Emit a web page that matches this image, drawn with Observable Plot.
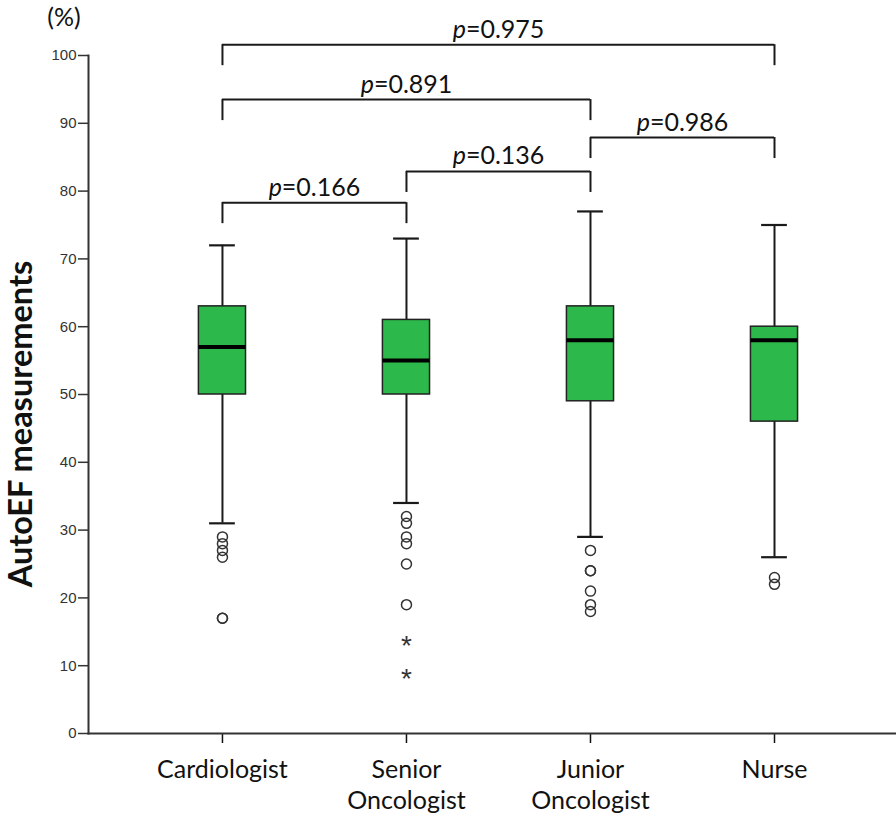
<!DOCTYPE html>
<html>
<head>
<meta charset="utf-8">
<script src="https://cdn.jsdelivr.net/npm/d3@7"></script>
<script src="https://cdn.jsdelivr.net/npm/@observablehq/plot@0.6"></script>
<style>
  body { margin: 0; background: #fff; }
</style>
</head>
<body>
<div id="chart"></div>
<script>
// ---- data ----
const categories = ["Cardiologist", "Senior\nOncologist", "Junior\nOncologist", "Nurse"];
const whiskerLow  = [31, 34, 29, 26];
const q1          = [50, 50, 49, 46];
const median      = [57, 55, 58, 58];
const q3          = [63, 61, 63, 60];
const whiskerHigh = [72, 73, 77, 75];

// mild outliers (circles): group index and value
const outlierGroup = [0, 0, 0, 0, 0, 0, 1, 1, 1, 1, 1, 1, 2, 2, 2, 2, 2, 2, 3, 3];
const outlierValue = [29, 28, 27, 26, 17, 17, 32, 31, 29, 28, 25, 19, 27, 24, 24, 21, 19, 18, 23, 22];
// extreme outliers (stars)
const extremeGroup = [1, 1];
const extremeValue = [14, 9];

// pairwise comparisons
const pairFrom  = [0, 1, 2, 0, 0];
const pairTo    = [1, 2, 3, 2, 3];
const pairLevel = [78.3, 82.9, 87.9, 93.5, 101.6];
const pValues   = ["0.166", "0.136", "0.986", "0.891", "0.975"];

const yTicks = [0, 10, 20, 30, 40, 50, 60, 70, 80, 90, 100];
const xTicks = [0, 1, 2, 3];

// ---- derived tables ----
const boxes = categories.map((c, i) => ({
  i, low: whiskerLow[i], q1: q1[i], med: median[i], q3: q3[i], high: whiskerHigh[i]
}));
const outliers = outlierGroup.map((g, k) => ({i: g, v: outlierValue[k]}));
const extremes = extremeGroup.map((g, k) => ({i: g, v: extremeValue[k]}));
const pairs = pairFrom.map((f, k) => ({from: f, to: pairTo[k], level: pairLevel[k], p: pValues[k]}));
const drop = 3.1;
const drops = pairs.flatMap(d => [{x: d.from, level: d.level}, {x: d.to, level: d.level}]);

const boxHalf = 0.128;
const capHalf = 0.07;
const green = "#2db84b";
const ink = "#1a1a1a";

const plot = Plot.plot({
  width: 896,
  height: 815,
  marginLeft: 88,
  marginRight: 0,
  marginTop: 55,
  marginBottom: 82,
  style: {background: "#fff", fontFamily: "Lato, sans-serif", overflow: "visible"},
  x: {type: "linear", domain: [-0.728, 3.663]},
  y: {domain: [0, 100]},
  marks: [
    // whiskers
    Plot.ruleX(boxes, {x: "i", y1: "low", y2: "high", stroke: ink, strokeWidth: 2}),
    Plot.ruleY(boxes, {y: "low", x1: d => d.i - capHalf, x2: d => d.i + capHalf, stroke: ink, strokeWidth: 2.2}),
    Plot.ruleY(boxes, {y: "high", x1: d => d.i - capHalf, x2: d => d.i + capHalf, stroke: ink, strokeWidth: 2.2}),
    // boxes
    Plot.rect(boxes, {x1: d => d.i - boxHalf, x2: d => d.i + boxHalf, y1: "q1", y2: "q3",
      fill: green, stroke: "#222", strokeWidth: 1.5}),
    Plot.ruleY(boxes, {y: "med", x1: d => d.i - boxHalf, x2: d => d.i + boxHalf, stroke: "#000", strokeWidth: 4}),
    // outliers
    Plot.dot(outliers, {x: "i", y: "v", r: 5, fill: "none", stroke: "#333", strokeWidth: 1.5}),
    Plot.text(extremes, {x: "i", y: "v", text: () => "*", fontFamily: "Liberation Sans", fontSize: 28,
      dy: 7, fill: "#333"}),
    // brackets
    Plot.ruleY(pairs, {y: "level", x1: "from", x2: "to", stroke: ink, strokeWidth: 2}),
    Plot.ruleX(drops, {x: "x", y1: d => d.level - drop, y2: "level", stroke: ink, strokeWidth: 2}),
    Plot.text(pairs, {x: d => (d.from + d.to) / 2, y: "level", text: d => "p=" + d.p,
      lineAnchor: "bottom", dy: -7, fontSize: 25, fill: "#111"}),
    // axes
    Plot.axisY(yTicks, {tickSize: 10, tickPadding: 2, fontFamily: "Liberation Sans", fontSize: 15,
      color: "#333", strokeWidth: 1.5, label: null}),
    Plot.axisX(xTicks, {tickSize: 10, tickPadding: 13, tickFormat: i => categories[i], fontSize: 25,
      lineHeight: 1.22, color: "#111", strokeWidth: 1.5, label: null}),
    Plot.frame({anchor: "left", stroke: "#333", strokeWidth: 2}),
    Plot.frame({anchor: "bottom", stroke: "#333", strokeWidth: 2})
  ]
});

// italic "p" in p-value labels
d3.select(plot).selectAll("text").each(function () {
  if (this.childElementCount === 0 && /^p=/.test(this.textContent)) {
    const s = this.textContent;
    const t = d3.select(this);
    t.text(null);
    t.append("tspan").attr("font-style", "italic").text("p");
    t.append("tspan").text(s.slice(1));
  }
});

// axis titles
const svg = d3.select(plot);
svg.append("text")
  .attr("transform", "translate(32,424) rotate(-90)")
  .attr("text-anchor", "middle")
  .attr("font-family", "Lato, sans-serif")
  .attr("font-weight", "bold")
  .attr("font-size", 32.5)
  .attr("fill", "#111")
  .text("AutoEF measurements");
svg.append("text")
  .attr("x", 64).attr("y", 26)
  .attr("text-anchor", "middle")
  .attr("font-family", "Lato, sans-serif")
  .attr("font-size", 25)
  .attr("fill", "#111")
  .text("(%)");

document.getElementById("chart").appendChild(plot);
</script>
</body>
</html>
